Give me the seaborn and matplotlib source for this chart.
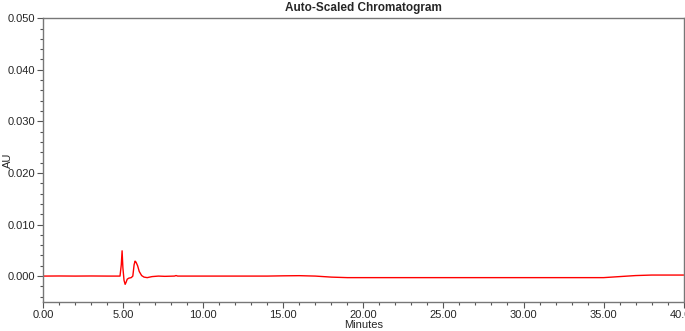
import numpy as np
import pandas as pd
import matplotlib
matplotlib.use("Agg")
import matplotlib.pyplot as plt
import seaborn as sns
from matplotlib.ticker import MultipleLocator, FormatStrFormatter

# retention time (min) and absorbance (AU)
minutes = [0.0, 1.0, 2.0, 3.0, 4.0, 4.8, 4.88, 4.93, 4.98, 5.05, 5.12, 5.18,
           5.25, 5.35, 5.5, 5.6, 5.68, 5.74, 5.8, 5.9, 6.0, 6.15, 6.3, 6.5,
           6.8, 7.2, 7.6, 8.2, 8.3, 8.4, 9.0, 10.0, 12.0, 14.0, 15.0, 16.0,
           17.0, 18.0, 19.0, 20.0, 25.0, 30.0, 34.0, 35.0, 36.0, 37.0, 38.0,
           39.0, 40.0]
au = [0.0, 0.00002, 0.0, 0.00002, 0.0, 0.0, 0.0022, 0.0049, 0.0016, -0.0008,
      -0.0016, -0.0012, -0.0006, -0.0004, -0.0003, 0.0, 0.0022, 0.0029,
      0.0027, 0.0020, 0.0009, 0.0001, -0.0002, -0.0003, -0.0001, 0.0,
      -0.00005, 0.0, 0.0001, 0.0, 0.0, 0.0, 0.0, 0.0, 0.00005, 0.00008,
      0.0, -0.0002, -0.0003, -0.0003, -0.0003, -0.0003, -0.0003, -0.0003,
      -0.0001, 0.0001, 0.0002, 0.0002, 0.0002]

df = pd.DataFrame({"Minutes": minutes, "AU": au})

sns.set_style("white")
plt.rcParams["font.family"] = ["Liberation Sans", "DejaVu Sans"]

fig, ax = plt.subplots(figsize=(6.85, 3.31), dpi=100)
sns.lineplot(data=df, x="Minutes", y="AU", color="red", linewidth=1.0, ax=ax)

ax.set_xlim(0, 40)
ax.set_ylim(-0.005, 0.05)
ax.xaxis.set_major_locator(MultipleLocator(5))
ax.xaxis.set_minor_locator(MultipleLocator(1))
ax.yaxis.set_major_locator(MultipleLocator(0.01))
ax.yaxis.set_minor_locator(MultipleLocator(0.002))
ax.xaxis.set_major_formatter(FormatStrFormatter("%.2f"))
ax.yaxis.set_major_formatter(FormatStrFormatter("%.3f"))
ax.tick_params(which="major", direction="out", length=4, width=0.8, pad=2,
               labelsize=8, color="#555555", bottom=True, left=True)
ax.tick_params(which="minor", direction="out", length=2.5, width=0.8,
               color="#555555", bottom=True, left=True)
for s in ax.spines.values():
    s.set_color("#777777")
    s.set_linewidth(1.0)

ax.set_title("Auto-Scaled Chromatogram", fontsize=8.5, fontweight="bold", pad=5)
ax.set_xlabel("Minutes", fontsize=8, labelpad=0)
ax.set_ylabel("AU", fontsize=8)
ax.yaxis.set_label_coords(-0.047, 0.5)

fig.subplots_adjust(left=0.063, right=0.998, top=0.945, bottom=0.088)
fig.savefig("out.png", dpi=100)
